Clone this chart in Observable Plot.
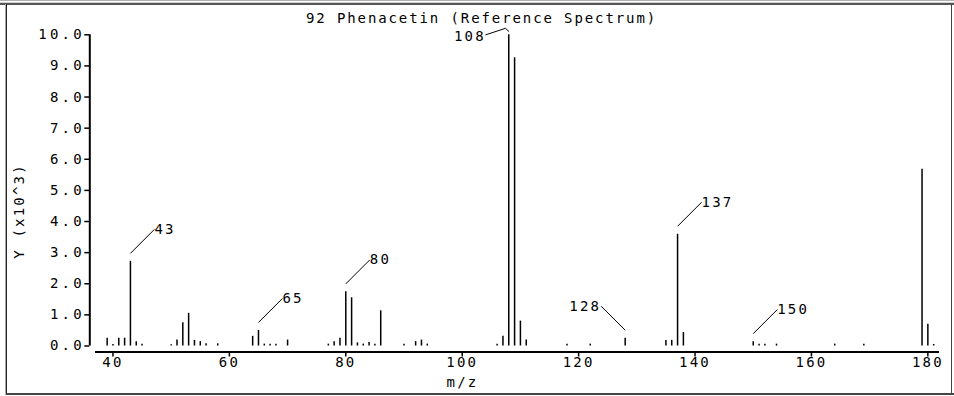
<!DOCTYPE html>
<html><head><meta charset="utf-8">
<script src="https://cdn.jsdelivr.net/npm/d3@7"></script>
<script src="https://cdn.jsdelivr.net/npm/@observablehq/plot@0.6"></script>
<style>
html,body{margin:0;padding:0;background:#fff;}
#wrap{position:relative;width:954px;height:396px;overflow:hidden;background:#fff;}
#wrap svg{position:absolute;left:0;top:0;}
#wrap svg text{letter-spacing:2.2px;}
.b{position:absolute;}
</style></head><body>
<div id="wrap"></div>
<script>
// ---- data ----
const mz = [39,40,41,42,43,44,45,50,51,52,53,54,55,56,58,64,65,66,67,68,70,77,78,79,80,81,82,83,84,85,86,90,92,93,94,106,107,108,109,110,111,118,122,128,135,136,137,138,150,151,152,154,164,169,179,180,181];
const intensity = [0.25,0.05,0.25,0.25,2.72,0.14,0.06,0.04,0.19,0.75,1.05,0.18,0.14,0.07,0.07,0.31,0.50,0.06,0.06,0.06,0.19,0.06,0.14,0.25,1.74,1.55,0.10,0.06,0.11,0.06,1.13,0.06,0.14,0.19,0.06,0.06,0.31,10.0,9.26,0.80,0.19,0.06,0.06,0.25,0.18,0.18,3.59,0.43,0.14,0.06,0.06,0.06,0.06,0.06,5.68,0.70,0.05];
const labeledPeaks = [43,65,80,108,128,137,150];
const xTicks = [40,60,80,100,120,140,160,180];
const yTicks = [0,1,2,3,4,5,6,7,8,9,10];
const xDomain = [37,182];
const yDomain = [0,10];
const titleText = "92 Phenacetin (Reference Spectrum)";
const xLabel = "m/z";
const yLabel = "Y (x10^3)";

// ---- layout ----
const W = 954, H = 396, mL = 95, mR = 15, mT = 34.3, mB = 50.5;
const kx = (W - mL - mR) / (xDomain[1] - xDomain[0]);
const ky = (H - mT - mB) / (yDomain[1] - yDomain[0]);

const peaks = mz.map((m, i) => ({mz: m, y: intensity[i]}));
const lab = labeledPeaks.map(m => peaks.find(p => p.mz === m));
const leftSide = new Set([128]);
const special = 108;
const links = lab.filter(d => d.mz !== special).map(d => {
  const s = leftSide.has(d.mz) ? -1 : 1;
  return {x1: d.mz, y1: d.y + 8 / ky, x2: d.mz + s * 24 / kx, y2: d.y + 32 / ky, s, t: String(d.mz)};
});
const sp = peaks.find(p => p.mz === special);
const spLine = [
  {x: sp.mz - 23 / kx, y: sp.y},
  {x: sp.mz - 3.3 / kx, y: sp.y + 6.5 / ky},
  {x: sp.mz, y: sp.y + 3.5 / ky}
];
const spText = [{x: sp.mz - 23 / kx, y: sp.y - 1.4 / ky, t: String(sp.mz)}];
// y-axis title anchored in data space (centre ~135 px above baseline)
const yLab = [{x: xDomain[0], y: yDomain[0] + 135 / ky, t: yLabel}];

const font = {fontFamily: "DejaVu Sans Mono", fontSize: 14, fill: "#000"};
const plot = Plot.plot({
  width: W, height: H,
  marginLeft: mL, marginRight: mR, marginTop: mT, marginBottom: mB,
  x: {domain: xDomain, axis: null},
  y: {domain: yDomain, axis: null},
  style: {fontFamily: "DejaVu Sans Mono", fontSize: "14px", background: "#fff", color: "#000", overflow: "visible"},
  marks: [
    Plot.ruleY([yDomain[0]], {dy: 6, strokeWidth: 2, stroke: "#000"}),
    Plot.ruleX([xDomain[0]], {y1: yDomain[0], y2: yDomain[1], dx: -5.7, strokeWidth: 2, stroke: "#000"}),
    Plot.axisY(yTicks, {anchor: "left", tickSize: 5, tickPadding: 0, dx: -5.7, strokeWidth: 1.5, tickFormat: d => d.toFixed(1), label: null, fill: "#000", stroke: "#000"}),
    Plot.axisX(xTicks, {anchor: "bottom", tickSize: 5, tickPadding: 0, dy: 6, strokeWidth: 1.5, tickFormat: d => String(d), label: null, fill: "#000", stroke: "#000"}),
    Plot.ruleX(peaks, {x: "mz", y1: 0, y2: "y", strokeWidth: 1.5, stroke: "#000"}),
    Plot.link(links, {x1: "x1", y1: "y1", x2: "x2", y2: "y2", stroke: "#000", strokeWidth: 1}),
    Plot.text(links.filter(d => d.s > 0), {x: "x2", y: "y2", text: "t", textAnchor: "start", dx: 0, ...font}),
    Plot.text(links.filter(d => d.s < 0), {x: "x2", y: "y2", text: "t", textAnchor: "end", dx: 0, ...font}),
    Plot.line(spLine, {x: "x", y: "y", stroke: "#000", strokeWidth: 1}),
    Plot.text(spText, {x: "x", y: "y", text: "t", textAnchor: "end", ...font}),
    Plot.text([titleText], {frameAnchor: "top", dx: -36, dy: -16.3, lineAnchor: "middle", ...font}),
    Plot.text([xLabel], {frameAnchor: "bottom", dx: -55, dy: 36.5, lineAnchor: "middle", ...font}),
    Plot.text(yLab, {x: "x", y: "y", text: "t", rotate: -90, dx: -76, lineAnchor: "middle", ...font})
  ]
});
const wrap = document.getElementById("wrap");
wrap.appendChild(plot);
// letter spacing tweaks
plot.querySelectorAll("text").forEach(t => {
  const s = t.textContent;
  if (s === titleText) t.style.letterSpacing = "1.9px";
  else if (/^\d+\.\d$/.test(s)) t.style.letterSpacing = "3.2px";
});
// frame decoration
const borders = [
  "left:0;top:0;width:954px;height:1px;background:#b0b0b0",
  "left:0;top:2px;width:954px;height:1px;background:#d0d0d0",
  "left:0;top:3px;width:954px;height:2px;background:#555",
  "left:5px;top:4px;width:1px;height:391px;background:#aaa",
  "left:6px;top:4px;width:1px;height:391px;background:#222",
  "left:6px;top:393px;width:948px;height:2px;background:#444",
  "left:951px;top:4px;width:1px;height:391px;background:#444"
];
borders.forEach(s => { const d = document.createElement("div"); d.className = "b"; d.style.cssText = s; wrap.appendChild(d); });
</script>
</body></html>
